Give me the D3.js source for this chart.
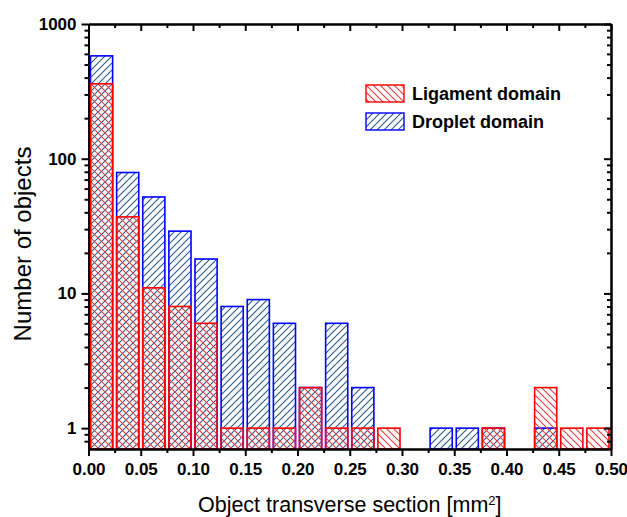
<!DOCTYPE html>
<html>
<head>
<meta charset="utf-8">
<script src="https://cdn.jsdelivr.net/npm/d3@7"></script>
<style>
  body { margin: 0; background: #fff; }
  svg { font-family: Arial, "Liberation Sans", sans-serif; }
</style>
</head>
<body>
<div id="chart"></div>
<script>
// bin edges (mm^2) and counts per bin
var binStart = [0.000, 0.025, 0.050, 0.075, 0.100, 0.125, 0.150, 0.175, 0.200, 0.225,
                0.250, 0.275, 0.300, 0.325, 0.350, 0.375, 0.400, 0.425, 0.450, 0.475];
var binWidth = 0.025;
var ligament = [360, 37, 11, 8, 6, 1, 1, 1, 2, 1, 1, 1, 0, 0, 0, 1, 0, 2, 1, 1];
var droplet  = [580, 79, 52, 29, 18, 8, 9, 6, 2, 6, 2, 0, 0, 1, 1, 1, 0, 1, 0, 0];
var xTicks = [0, 0.05, 0.10, 0.15, 0.20, 0.25, 0.30, 0.35, 0.40, 0.45, 0.50];
var xMinor = [0.025, 0.075, 0.125, 0.175, 0.225, 0.275, 0.325, 0.375, 0.425, 0.475];
var yTicks = [1, 10, 100, 1000];
var yMinor = [0.8, 0.9, 2, 3, 4, 5, 6, 7, 8, 9, 20, 30, 40, 50, 60, 70, 80, 90,
              200, 300, 400, 500, 600, 700, 800, 900];

var W = 627, H = 517;
var pLeft = 88.5, pRight = 611, pTop = 24, pBottom = 449;

var svg = d3.select("#chart").append("svg")
  .attr("width", W).attr("height", H);

// hatch patterns
var defs = svg.append("defs");
defs.append("pattern")
  .attr("id", "hatchBlue").attr("patternUnits", "userSpaceOnUse")
  .attr("width", 7).attr("height", 7)
  .append("path").attr("d", "M-1,8 L8,-1 M-1,1 L1,-1 M6,8 L8,6")
  .attr("stroke", "#2a5a92").attr("stroke-width", 1.1);
defs.append("pattern")
  .attr("id", "hatchRed").attr("patternUnits", "userSpaceOnUse")
  .attr("width", 7).attr("height", 7)
  .append("path").attr("d", "M-1,-1 L8,8 M6,-1 L8,1 M-1,6 L1,8")
  .attr("stroke", "#e63c3c").attr("stroke-width", 1.1);

var x = d3.scaleLinear().domain([0, 0.5]).range([pLeft, pRight]);
var y = d3.scaleLog().domain([0.7, 1000]).range([pBottom, pTop]);

function bars(vals, cls, fill, stroke) {
  var data = binStart.map(function(b, i) { return {b: b, v: vals[i]}; })
    .filter(function(d) { return d.v > 0; });
  svg.selectAll("rect." + cls)
    .data(data)
    .enter()
    .append("rect")
      .attr("class", cls)
      .attr("x", function(d) { return x(d.b) + 2; })
      .attr("y", function(d) { return y(d.v); })
      .attr("width", function(d) { return x(d.b + binWidth) - x(d.b) - 4; })
      .attr("height", function(d) { return pBottom - y(d.v); })
      .attr("fill", fill)
      .attr("stroke", stroke)
      .attr("stroke-width", 1.6);
}
bars(droplet, "drop", "url(#hatchBlue)", "#0000ff");
bars(ligament, "lig", "url(#hatchRed)", "#ff0000");

// axes
function styleAxis(g) {
  g.selectAll(".domain").attr("stroke-width", 2).attr("stroke", "#000");
  g.selectAll(".tick line").attr("stroke-width", 2).attr("stroke", "#000");
  g.selectAll("text").attr("font-size", 17).attr("font-weight", "bold").attr("fill", "#000");
}

svg.append("g").attr("transform", "translate(0," + pBottom + ")")
  .call(d3.axisBottom(x).tickValues(xTicks).tickSize(7).tickSizeOuter(0)
    .tickPadding(7).tickFormat(d3.format(".2f")))
  .call(styleAxis);
svg.append("g").attr("transform", "translate(0," + pBottom + ")")
  .call(d3.axisBottom(x).tickValues(xMinor).tickSize(4).tickSizeOuter(0).tickFormat(""))
  .call(styleAxis);

svg.append("g").attr("transform", "translate(" + pLeft + ",0)")
  .call(d3.axisLeft(y).tickValues(yTicks).tickSize(7).tickSizeOuter(0)
    .tickPadding(5).tickFormat(d3.format("d")))
  .call(styleAxis);
svg.append("g").attr("transform", "translate(" + pLeft + ",0)")
  .call(d3.axisLeft(y).tickValues(yMinor).tickSize(4).tickSizeOuter(0).tickFormat(""))
  .call(styleAxis);

// top and right axes with inward ticks
svg.append("g").attr("transform", "translate(0," + pTop + ")")
  .call(d3.axisTop(x).tickValues(xTicks).tickSize(-7).tickSizeOuter(0).tickFormat(""))
  .call(styleAxis);
svg.append("g").attr("transform", "translate(0," + pTop + ")")
  .call(d3.axisTop(x).tickValues(xMinor).tickSize(-4).tickSizeOuter(0).tickFormat(""))
  .call(styleAxis);
svg.append("g").attr("transform", "translate(" + pRight + ",0)")
  .call(d3.axisRight(y).tickValues(yTicks).tickSize(-7).tickSizeOuter(0).tickFormat(""))
  .call(styleAxis);
svg.append("g").attr("transform", "translate(" + pRight + ",0)")
  .call(d3.axisRight(y).tickValues(yMinor).tickSize(-4).tickSizeOuter(0).tickFormat(""))
  .call(styleAxis);

// axis titles
var xt = svg.append("text")
  .attr("x", (pLeft + pRight) / 2).attr("y", 512)
  .attr("text-anchor", "middle").attr("font-size", 21.5)
  .text("Object transverse section [mm");
xt.append("tspan").attr("baseline-shift", "super").attr("font-size", 13).text("2");
xt.append("tspan").text("]");

svg.append("text")
  .attr("transform", "translate(31,244) rotate(-90)")
  .attr("text-anchor", "middle").attr("font-size", 24)
  .text("Number of objects");

// legend
var legend = [
  {label: "Ligament domain", fill: "url(#hatchRed)", stroke: "#ff0000"},
  {label: "Droplet domain", fill: "url(#hatchBlue)", stroke: "#0000ff"}
];
var lg = svg.append("g").attr("transform", "translate(366,85)");
legend.forEach(function(d, i) {
  lg.append("rect").attr("x", 0).attr("y", i * 28)
    .attr("width", 38).attr("height", 17)
    .attr("fill", d.fill).attr("stroke", d.stroke).attr("stroke-width", 1.4);
  lg.append("text").attr("x", 46).attr("y", i * 28 + 15)
    .attr("font-size", 18).attr("font-weight", "bold")
    .text(d.label);
});
</script>
</body>
</html>
